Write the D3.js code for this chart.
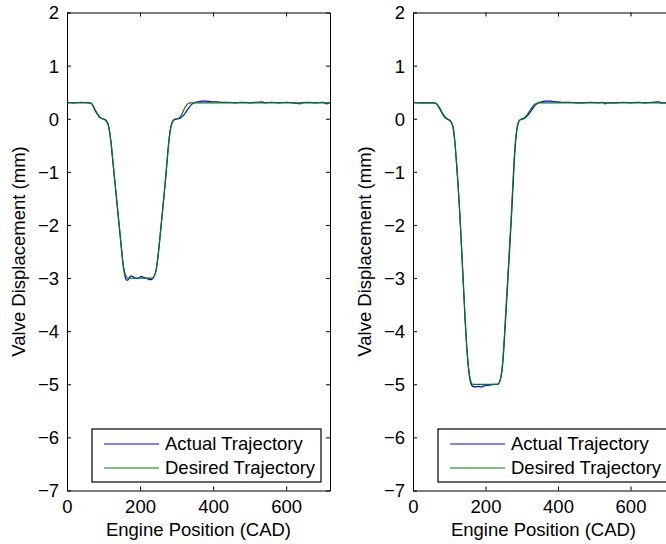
<!DOCTYPE html>
<html>
<head>
<meta charset="utf-8">
<script src="https://cdn.jsdelivr.net/npm/d3@7"></script>
<style>
body{margin:0;background:#fff}
svg{display:block}
text{font-family:"Liberation Sans",Arial,sans-serif;fill:#000}
</style>
</head>
<body>
<svg width="666" height="544"></svg>
<script>
// ---- data ----
const xTicks=[0,200,400,600]
const yTicks=[2,1,0,-1,-2,-3,-4,-5,-6,-7]
const seriesNames=["Actual Trajectory","Desired Trajectory"]

// left plot, 3 mm lift
const leftDesX=[0,60,66,72,77,84,90,97,104,109,113,117,121,125,130,135,140,145,150,154,158,162,167,234,239,243,247,251,256,261,266,271,275,279,283,287,292,299,305,310,314,318,323,328,333,338,720]
const leftDesY=[0.3,0.3,0.29,0.24,0.17,0.09,0.03,0,-0.01,-0.05,-0.11,-0.25,-0.47,-0.75,-1.1,-1.45,-1.8,-2.15,-2.5,-2.75,-2.9,-2.97,-3,-3,-2.96,-2.88,-2.72,-2.48,-2.13,-1.78,-1.42,-1.05,-0.72,-0.42,-0.2,-0.08,-0.02,0,0.01,0.04,0.08,0.14,0.21,0.26,0.29,0.3,0.3]
const leftActX=[0,20,40,60,66,72,77,84,90,97,104,109,113,117,121,125,130,135,140,145,150,154,158,162,166,170,175,180,186,192,198,204,210,216,222,228,233,238,243,247,251,256,261,266,271,275,279,283,287,292,299,305,310,315,320,325,330,335,340,346,352,360,370,380,395,410,425,440,460,480,500,520,535,540,560,580,600,620,638,642,660,680,700,712,716,720]
const leftActY=[0.31,0.3,0.31,0.3,0.29,0.23,0.15,0.08,0.02,0,-0.02,-0.06,-0.12,-0.27,-0.49,-0.77,-1.12,-1.47,-1.82,-2.17,-2.52,-2.78,-2.94,-3.03,-3.04,-3,-2.96,-2.97,-3,-3.01,-2.99,-2.97,-2.99,-3,-3.02,-3.03,-3.02,-2.97,-2.88,-2.71,-2.47,-2.12,-1.77,-1.41,-1.04,-0.71,-0.41,-0.21,-0.09,-0.03,-0.01,0,0.01,0.04,0.07,0.12,0.17,0.22,0.26,0.29,0.31,0.32,0.33,0.33,0.32,0.32,0.31,0.31,0.3,0.31,0.3,0.31,0.32,0.3,0.31,0.3,0.31,0.3,0.28,0.3,0.31,0.3,0.31,0.28,0.3,0.3]

// right plot, 5 mm lift
const rightDesX=[0,58,63,69,75,82,88,95,102,107,111,114,117,120,124,128,132,136,140,144,148,152,156,160,165,235,240,244,248,252,256,260,264,268,272,276,280,284,288,293,300,307,313,318,323,329,335,341,347,720]
const rightDesY=[0.3,0.3,0.29,0.25,0.19,0.1,0.04,0,-0.03,-0.08,-0.17,-0.33,-0.55,-0.82,-1.2,-1.65,-2.15,-2.7,-3.25,-3.8,-4.25,-4.6,-4.83,-4.95,-5,-5,-4.93,-4.8,-4.52,-4.1,-3.62,-3.15,-2.68,-2.2,-1.7,-1.15,-0.65,-0.32,-0.13,-0.04,0,0.02,0.06,0.11,0.16,0.22,0.27,0.29,0.3,0.3]
const rightActX=[0,20,40,58,63,69,75,82,88,95,102,107,111,114,117,120,124,128,132,136,140,144,148,152,156,160,165,172,180,188,196,205,215,225,232,237,241,245,249,253,257,261,265,269,273,277,281,285,289,294,300,306,312,317,322,328,334,340,346,355,365,380,395,410,430,450,470,490,510,525,530,535,560,580,600,620,640,660,680,683,700,720]
const rightActY=[0.31,0.3,0.3,0.3,0.29,0.24,0.17,0.08,0.02,-0.01,-0.04,-0.09,-0.18,-0.34,-0.57,-0.84,-1.22,-1.67,-2.17,-2.72,-3.27,-3.82,-4.28,-4.63,-4.87,-4.99,-5.04,-5.05,-5.04,-5.05,-5.03,-5.02,-5.01,-5,-5,-4.98,-4.91,-4.77,-4.49,-4.07,-3.6,-3.12,-2.65,-2.17,-1.67,-1.12,-0.62,-0.3,-0.12,-0.03,-0.01,0,0.03,0.07,0.11,0.17,0.23,0.27,0.3,0.32,0.33,0.33,0.32,0.31,0.31,0.3,0.3,0.31,0.3,0.31,0.28,0.3,0.3,0.31,0.3,0.31,0.3,0.31,0.32,0.3,0.3,0.3]

const colors=["#0000ff","#007f00"]
const svg=d3.select("svg")
const fs=18.5

function panel(left,right,actX,actY,desX,desY){
  const x=d3.scaleLinear().domain([0,720]).range([left,right])
  const y=d3.scaleLinear().domain([-7,2]).range([490.5,12.5])
  const g=svg.append("g")
  const line=d3.line().x(d=>x(d[0])).y(d=>y(d[1])).curve(d3.curveMonotoneX)
  const act=d3.zip(actX,actY), des=d3.zip(desX,desY)
  g.append("path").datum(act).attr("d",line).attr("fill","none").attr("stroke",colors[0]).attr("stroke-width",1.2)
  g.append("path").datum(des).attr("d",line).attr("fill","none").attr("stroke",colors[1]).attr("stroke-width",1.2)

  // axes, matlab style: ticks pointing inward on all sides
  const fmt=d=>d<0?"\u2212"+Math.abs(d):""+d
  const ax=(gen,tr)=>g.append("g").attr("transform",tr).call(gen)
  const bottom=ax(d3.axisBottom(x).tickValues(xTicks).tickSizeInner(-4).tickSizeOuter(0).tickPadding(12).tickFormat(fmt),`translate(0,${y(-7)})`)
  ax(d3.axisTop(x).tickValues(xTicks).tickSizeInner(-4).tickSizeOuter(0).tickFormat(""),`translate(0,${y(2)})`)
  const leftAx=ax(d3.axisLeft(y).tickValues(yTicks).tickSizeInner(-4).tickSizeOuter(0).tickPadding(8).tickFormat(fmt),`translate(${x(0)},0)`)
  ax(d3.axisRight(y).tickValues(yTicks).tickSizeInner(-4).tickSizeOuter(0).tickFormat(""),`translate(${x(720)},0)`)
  g.selectAll(".domain").attr("stroke","#000").attr("stroke-width",1)
  g.selectAll(".tick line").attr("stroke","#000")
  g.selectAll(".tick text").attr("font-size",fs).attr("font-family","Liberation Sans, Arial, sans-serif").attr("fill","#000")
  bottom.selectAll(".tick text").attr("dy","0.55em")
  leftAx.selectAll(".tick text").attr("dy","0.35em")

  g.append("text").attr("x",x(360)).attr("y",536).attr("text-anchor","middle").attr("font-size",fs).text("Engine Position (CAD)")
  g.append("text").attr("transform",`translate(${left-42},${y(-2.5)}) rotate(-90)`).attr("text-anchor","middle").attr("font-size",fs).text("Valve Displacement (mm)")

  // legend
  const lx=left+25, ly=429
  const lg=g.append("g").attr("transform",`translate(${lx},${ly})`)
  lg.append("rect").attr("width",229).attr("height",53).attr("fill","#fff").attr("stroke","#000").attr("stroke-width",1.2)
  seriesNames.forEach((s,i)=>{
    const yy=15+i*24
    lg.append("line").attr("x1",12).attr("x2",67).attr("y1",yy).attr("y2",yy).attr("stroke",colors[i]).attr("stroke-width",1)
    lg.append("text").attr("x",73).attr("y",yy).attr("dy","0.35em").attr("font-size",fs).text(s)
  })
}

panel(67,330,leftActX,leftActY,leftDesX,leftDesY)
panel(413,674,rightActX,rightActY,rightDesX,rightDesY)
</script>
</body>
</html>
